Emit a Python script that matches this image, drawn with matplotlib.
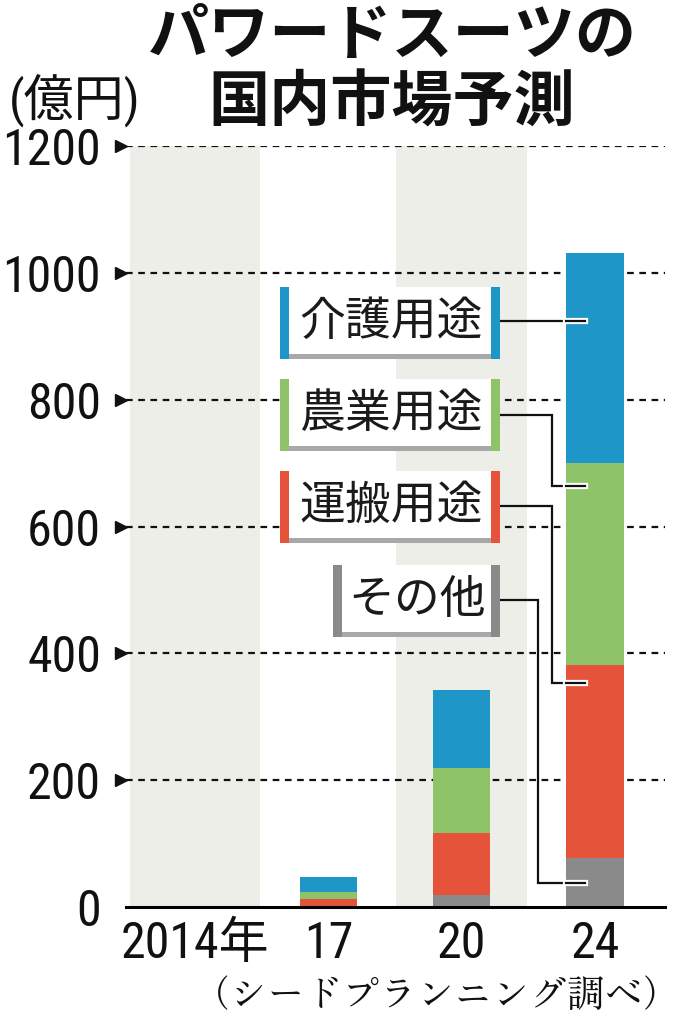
import matplotlib
matplotlib.use('Agg')
import matplotlib.pyplot as plt
import matplotlib.patheffects as pe
from matplotlib import font_manager as fm
from matplotlib.patches import Rectangle
from matplotlib.transforms import Affine2D

# データ（億円）
years = ['2014年', '17', '20', '24']
other = [0, 0, 19, 77]          # その他
transport = [0, 12, 98, 304]    # 運搬用途
agri = [0, 12, 102, 319]        # 農業用途
care = [0, 24, 123, 331]        # 介護用途
yticks = [0, 200, 400, 600, 800, 1000, 1200]

colors = ['#8a8a8a', '#e5533a', '#8fc36a', '#1e96c8']

# フォント選び（無ければ次の候補）
available = {f.name for f in fm.fontManager.ttflist}
def pick(cands, default):
    return next((c for c in cands if c in available), default)

narrow = pick(['Liberation Sans Narrow', 'Roboto Condensed', 'Archivo Narrow', 'PT Sans Narrow',
               'IBM Plex Sans Condensed', 'Fira Sans Condensed', 'Open Sans Condensed',
               'Barlow Semi Condensed', 'Encode Sans Condensed'], 'DejaVu Sans')
mincho = pick(['Zen Old Mincho', 'Shippori Mincho', 'Noto Serif JP', 'BIZ UDMincho'], 'Noto Sans CJK JP')
NUM = [narrow, 'Noto Sans CJK JP']
JP = ['Noto Sans CJK JP', 'DejaVu Sans']
SERIF = [mincho, 'Noto Sans CJK JP']

W, H = 683, 1024
fig = plt.figure(figsize=(W / 100, H / 100), dpi=100)
# ピクセル座標（左上原点）
px = Affine2D().scale(1 / W, -1 / H).translate(0, 1) + fig.transFigure

ax = fig.add_axes([126 / W, (H - 907) / H, (665 - 126) / W, (907 - 146) / H])
ax.set_xlim(-0.518, 3.525)
ax.set_ylim(0, 1200)

# 背景の帯
for c in (0, 2):
    ax.axvspan(c - 0.49, c + 0.49, color='#eeeee9', lw=0, zorder=0)

# 目盛り線
for y in yticks[1:]:
    ax.axhline(y, color='#111111', lw=1.6, ls=(0, (3, 2.5)), zorder=1)
    ax.plot([-0.0095], [y], marker='>', ms=9, color='#111111',
            transform=ax.get_yaxis_transform(), clip_on=False)

# 積み上げ棒
x = list(range(len(years)))
bottom = [0] * len(years)
for vals, col in zip([other, transport, agri, care], colors):
    ax.bar(x, vals, width=0.43, bottom=bottom, color=col, lw=0, zorder=2)
    bottom = [b + v for b, v in zip(bottom, vals)]

for s in ['left', 'right', 'top']:
    ax.spines[s].set_visible(False)
ax.spines['bottom'].set_linewidth(2.2)
ax.spines['bottom'].set_zorder(3)
ax.tick_params(axis='both', length=0)
ax.set_yticks(yticks)
ax.set_yticklabels([str(v) for v in yticks], fontsize=36, family=NUM, color='#111111')
ax.tick_params(axis='y', pad=18)
ax.set_xticks(x)
ax.set_xticklabels(years, fontsize=36, family=NUM, color='#111111')
ax.tick_params(axis='x', pad=9)

# 凡例ボックス（介護, 農業, 運搬, その他）
boxes = [
    ('介護用途', '#1e96c8', 280, 287, 359),
    ('農業用途', '#8fc36a', 280, 379, 451),
    ('運搬用途', '#e5533a', 280, 471, 543),
    ('その他', '#8a8a8a', 333, 565, 637),
]
right = 500
bw = 9
for label, col, left, top, bot in boxes:
    fig.add_artist(Rectangle((left + bw, top + 4), right - left - 2 * bw + 3, bot - top - 4,
                             transform=px, color='#a8a8a8', lw=0, zorder=5))
    fig.add_artist(Rectangle((left + bw, top), right - left - 2 * bw, bot - top - 5,
                             transform=px, color='white', lw=0, zorder=6))
    fig.add_artist(Rectangle((left, top), bw, bot - top, transform=px, color=col, lw=0, zorder=7))
    fig.add_artist(Rectangle((right - bw, top), bw, bot - top, transform=px, color=col, lw=0, zorder=7))
    fig.text((left + right) / 2 + 1, (top + bot) / 2 - 1, label, transform=px, ha='center',
             va='center', fontsize=33, family=JP, color='#1a1a1a', zorder=8)

# 引き出し線
bar_left = 3 - 0.215
leaders = [
    [(2.288, 924), (2.926, 924)],
    [(2.288, 776), (2.68, 776), (2.68, 664), (2.926, 664)],
    [(2.288, 632), (2.68, 632), (2.68, 353), (2.926, 353)],
    [(2.288, 484), (2.573, 484), (2.573, 38), (2.926, 38)],
]
for pts in leaders:
    xs = [p[0] for p in pts]
    ys = [p[1] for p in pts]
    ax.plot(xs, ys, color='#111111', lw=1.6, zorder=4, solid_joinstyle='miter')
    ax.plot([bar_left, xs[-1]], [ys[-1], ys[-1]], color='#111111', lw=1.6, zorder=4,
            path_effects=[pe.Stroke(linewidth=4.5, foreground='white'), pe.Normal()])

# タイトル・単位・出典
fig.text(392, 36, 'パワードスーツの', transform=px, ha='center', va='center',
         fontsize=44, family=JP, weight='bold', color='#111111')
fig.text(392, 104, '国内市場予測', transform=px, ha='center', va='center',
         fontsize=44, family=JP, weight='bold', color='#111111')
fig.text(75, 100, '(億円)', transform=px, ha='center', va='center',
         fontsize=36, family=NUM, color='#111111')
fig.text(680, 997, '（シードプランニング調べ）', transform=px, ha='right', va='center',
         fontsize=27, family=SERIF, color='#111111')

fig.savefig('out.png', dpi=100)
